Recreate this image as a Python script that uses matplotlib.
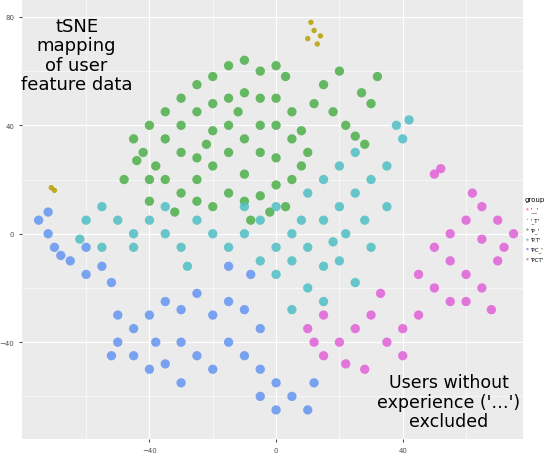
import matplotlib
matplotlib.use("Agg")
import matplotlib.pyplot as plt

groups = ["'__'", "'_T'", "'P_'", "'P.T'", "'PC_'", "'PCT'"]
colors = ["#F8766D", "#B79F00", "#4DAF4A", "#4FBFC4", "#6495F0", "#E060D8"]

g_red = []
g_olive = [(10,72),(12,75),(14,73),(11,78),(13,70),(-71,17),(-70,16)]
g_green = [(-45,35),(-40,40),(-35,45),(-30,50),(-25,55),(-20,58),(-15,62),(-10,64),(-5,60),(0,62),(3,58),
 (-42,30),(-38,25),(-35,20),(-30,15),(-25,12),(-20,10),(-15,15),(-10,12),(-5,14),(0,18),(5,20),(8,25),
 (10,30),(8,38),(5,45),(0,50),(-5,50),(-10,52),(-15,50),(-20,48),(-25,45),(-30,40),(-35,35),(-30,30),
 (-25,28),(-20,25),(-15,30),(-10,35),(-5,40),(0,40),(-5,30),(-15,40),(-20,38),(-25,20),(-10,22),(0,28),
 (5,35),(-48,20),(-40,12),(12,48),(15,55),(20,60),(18,45),(22,40),(25,36),(28,33),(30,48),(32,58),(27,52),
 (-2,8),(-8,5),(-40,20),(-32,8),(-12,45),(-22,33),(3,10),(-44,27)]
g_teal = [(-60,5),(-55,10),(-50,5),(-45,0),(-40,5),(-35,0),(-55,-5),(-45,-5),(-30,-5),(-25,5),(-20,0),
 (-15,-5),(-10,0),(-5,5),(0,10),(5,0),(10,15),(15,20),(20,25),(25,30),(20,10),(15,5),(25,15),(30,20),
 (35,25),(28,5),(22,0),(30,-5),(10,-5),(5,-10),(0,-15),(-5,-10),(10,-20),(15,-25),(5,-28),(20,-10),
 (15,-12),(35,10),(38,40),(40,35),(42,42),(-35,10),(-28,-12),(-62,-2),(0,-5),(-10,10),(25,-18),(8,5),(18,-3)]
g_blue = [(-75,5),(-72,0),(-70,-5),(-65,-10),(-60,-15),(-55,-12),(-52,-18),(-68,-8),(-72,8),(-60,-5),
 (-50,-30),(-45,-35),(-40,-30),(-35,-25),(-30,-28),(-25,-22),(-20,-30),(-15,-25),(-10,-28),(-5,-35),
 (-45,-45),(-40,-50),(-35,-48),(-30,-40),(-25,-45),(-20,-50),(-15,-40),(-10,-45),(-5,-50),(0,-55),
 (5,-60),(10,-65),(0,-65),(-5,-60),(-50,-40),(-8,-15),(-15,-12),(-30,-55),(12,-55),(-38,-40),(-52,-45)]
g_pink = [(10,-35),(15,-30),(20,-40),(25,-35),(30,-30),(35,-40),(22,-48),(15,-45),(28,-50),(12,-40),
 (40,-35),(45,-30),(50,-20),(55,-25),(60,-15),(65,-20),(70,-10),(50,-5),(55,0),(60,5),(65,10),(70,5),
 (72,-5),(55,-10),(45,-15),(60,-25),(68,-28),(75,0),(65,-2),(50,22),(52,24),(62,15),(40,-45),(33,-22)]

data = [g_red, g_olive, g_green, g_teal, g_blue, g_pink]
sizes = [45, 15, 45, 45, 45, 45]

fig = plt.figure(figsize=(5.6, 4.6), dpi=100)
ax = fig.add_axes([0.039, 0.043, 0.895, 0.957])
ax.set_facecolor("#EBEBEB")
for lab, col, pts, sz in zip(groups, colors, data, sizes):
    xs = [p[0] for p in pts]; ys = [p[1] for p in pts]
    ax.scatter(xs, ys, s=sz, c=col, alpha=0.85, edgecolors="none", label=lab)
ax.set_xlim(-80.3, 78)
ax.set_ylim(-75.8, 86.6)
ax.set_xticks([-40, 0, 40]); ax.set_yticks([-40, 0, 40, 80])
ax.set_xticks([-60, -20, 20, 60], minor=True); ax.set_yticks([-60, -20, 20, 60], minor=True)
ax.grid(True, which="major", color="white", lw=0.8)
ax.grid(True, which="minor", color="white", lw=0.4)
ax.set_axisbelow(True)
for s in ax.spines.values(): s.set_visible(False)
ax.tick_params(labelsize=5, colors="#4D4D4D", length=2, which="major")
ax.tick_params(which="minor", length=0)
ax.text(-63, 66, "tSNE\nmapping\nof user\nfeature data", ha="center", va="center", fontsize=13, linespacing=1.1)
ax.text(54.5, -62, "Users without\nexperience ('…')\nexcluded", ha="center", va="center", fontsize=12.5, linespacing=1.1)
leg = fig.legend(loc="center left", bbox_to_anchor=(0.935, 0.5), title="group", fontsize=4,
                 title_fontsize=5, frameon=False, markerscale=0.25, handletextpad=0.1,
                 handlelength=1.0, borderpad=0.1, borderaxespad=0.1, labelspacing=0.8)
leg._legend_box.align = "left"
fig.savefig("out.png", dpi=100)
